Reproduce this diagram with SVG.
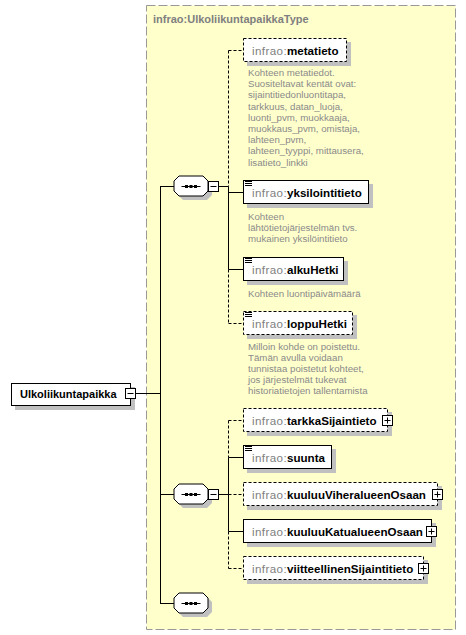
<svg xmlns="http://www.w3.org/2000/svg" width="466" height="635" viewBox="0 0 466 635">
<defs>
<style>
.bg{fill:#ffffff}
.type{fill:#ffffcc;stroke:#999999;stroke-width:1;stroke-dasharray:9,3}
.title{font-family:"Liberation Sans",Arial,sans-serif;font-size:11px;font-weight:bold;fill:#808080}
.box{fill:#ffffff;stroke:#000000;stroke-width:1}
.opt{stroke-dasharray:3,2}
.shadow{fill:#c0c0c0;stroke:none}
.lbl{font-family:"Liberation Sans",Arial,sans-serif;font-size:11.6px}
.pre{fill:#808080;font-weight:normal;letter-spacing:0.4px}
.nm{fill:#000000;font-weight:bold}
.main{font-family:"Liberation Sans",Arial,sans-serif;font-size:11px;font-weight:bold;fill:#000000}
.ann{font-family:"Liberation Sans",Arial,sans-serif;font-size:9.7px;fill:#8a8a8a}
.ln{stroke:#000000;stroke-width:1;fill:none}
.dl{stroke:#000000;stroke-width:1;fill:none;stroke-dasharray:3,2}
.doc{stroke:#000000;stroke-width:1}
.btn{fill:#ffffff;stroke:#000000;stroke-width:1}
</style>
<path id="oct" d="M5,0 H29 L34,5 V15 L29,20 H5 L0,15 V5 Z"/>
<g id="seqicon">
<use href="#oct" x="4" y="4" class="shadow"/>
<use href="#oct" class="box"/>
<line x1="7.5" y1="10.5" x2="26.5" y2="10.5" class="ln"/>
<rect x="11" y="9" width="3" height="3" fill="#000"/>
<rect x="15.5" y="9" width="3" height="3" fill="#000"/>
<rect x="20" y="9" width="3" height="3" fill="#000"/>
</g>
<g id="docicon">
<line x1="2" y1="1.5" x2="9" y2="1.5" class="doc"/>
<line x1="2" y1="3.5" x2="9" y2="3.5" class="doc"/>
<line x1="2" y1="5.5" x2="9" y2="5.5" class="doc"/>
</g>
<g id="plus">
<rect x="0.5" y="0.5" width="10" height="10" class="btn"/>
<line x1="2.5" y1="5.5" x2="8.5" y2="5.5" class="ln"/>
<line x1="5.5" y1="2.5" x2="5.5" y2="8.5" class="ln"/>
</g>
<g id="minus">
<rect x="0.5" y="0.5" width="10" height="10" class="btn"/>
<line x1="2.5" y1="5.5" x2="8.5" y2="5.5" class="ln"/>
</g>
</defs>
<rect x="0" y="0" width="466" height="635" class="bg"/>

<g id="type">
<rect x="146.5" y="5.5" width="309" height="624" class="type"/>
<text x="153" y="23" class="title">infrao:UlkoliikuntapaikkaType</text>
</g>

<g id="connectors">
<line x1="136" y1="393.5" x2="160.5" y2="393.5" class="ln"/>
<line x1="160.5" y1="186.5" x2="160.5" y2="603.5" class="ln"/>
<line x1="160" y1="186.5" x2="174" y2="186.5" class="ln"/>
<line x1="160" y1="494.5" x2="174" y2="494.5" class="ln"/>
<line x1="160" y1="603.5" x2="174" y2="603.5" class="ln"/>
<line x1="219" y1="186.5" x2="228.5" y2="186.5" class="ln"/>
<line x1="228.5" y1="50.5" x2="228.5" y2="186.5" class="dl"/>
<line x1="228.5" y1="186.5" x2="228.5" y2="269.5" class="ln"/>
<line x1="228.5" y1="269.5" x2="228.5" y2="323.5" class="dl"/>
<line x1="228.5" y1="50.5" x2="243" y2="50.5" class="dl"/>
<line x1="228.5" y1="192.5" x2="243" y2="192.5" class="ln"/>
<line x1="228.5" y1="269.5" x2="243" y2="269.5" class="ln"/>
<line x1="228.5" y1="323.5" x2="243" y2="323.5" class="dl"/>
<line x1="219" y1="494.5" x2="228.5" y2="494.5" class="ln"/>
<line x1="228.5" y1="420.5" x2="228.5" y2="457.5" class="dl"/>
<line x1="228.5" y1="457.5" x2="228.5" y2="531.5" class="ln"/>
<line x1="228.5" y1="531.5" x2="228.5" y2="568.5" class="dl"/>
<line x1="228.5" y1="420.5" x2="243" y2="420.5" class="dl"/>
<line x1="228.5" y1="457.5" x2="243" y2="457.5" class="ln"/>
<line x1="228.5" y1="494.5" x2="243" y2="494.5" class="dl"/>
<line x1="228.5" y1="531.5" x2="243" y2="531.5" class="ln"/>
<line x1="228.5" y1="568.5" x2="243" y2="568.5" class="dl"/>
</g>

<g id="Ulkoliikuntapaikka">
<rect x="15" y="387" width="120" height="23" class="shadow"/>
<rect x="11.5" y="383.5" width="119" height="22" class="box"/>
<text x="20" y="398" class="main">Ulkoliikuntapaikka</text>
<use href="#minus" x="125" y="388"/>
</g>

<g id="seq1">
<use href="#seqicon" x="174" y="176"/>
<use href="#minus" x="208" y="181"/>
</g>
<g id="seq2">
<use href="#seqicon" x="174" y="484"/>
<use href="#minus" x="208" y="489"/>
</g>
<g id="seq3">
<use href="#seqicon" x="174" y="593"/>
</g>

<g id="metatieto">
<rect x="247" y="42" width="104" height="24" class="shadow"/>
<rect x="243.5" y="38.5" width="103" height="23" class="box opt"/>
<text y="54.5" class="lbl"><tspan x="252" class="pre">infrao:</tspan><tspan x="287" class="nm">metatieto</tspan></text>
<text class="ann"><tspan x="248" y="76">Kohteen metatiedot.</tspan><tspan x="248" y="87.2">Suositeltavat kentät ovat:</tspan><tspan x="248" y="98.4">sijaintitiedonluontitapa,</tspan><tspan x="248" y="109.6">tarkkuus, datan_luoja,</tspan><tspan x="248" y="120.8">luonti_pvm, muokkaaja,</tspan><tspan x="248" y="132">muokkaus_pvm, omistaja,</tspan><tspan x="248" y="143.2">lahteen_pvm,</tspan><tspan x="248" y="154.4">lahteen_tyyppi, mittausera,</tspan><tspan x="248" y="165.6">lisatieto_linkki</tspan></text>
</g>

<g id="yksilointitieto">
<rect x="247" y="184" width="126" height="24" class="shadow"/>
<rect x="243.5" y="180.5" width="125" height="23" class="box"/>
<use href="#docicon" x="243" y="180"/>
<text y="196.5" class="lbl"><tspan x="252" class="pre">infrao:</tspan><tspan x="287" class="nm">yksilointitieto</tspan></text>
<text class="ann"><tspan x="248" y="219.5">Kohteen</tspan><tspan x="248" y="230.7">lähtötietojärjestelmän  tvs.</tspan><tspan x="248" y="241.9">mukainen yksilöintitieto</tspan></text>
</g>

<g id="alkuHetki">
<rect x="247" y="261" width="101" height="24" class="shadow"/>
<rect x="243.5" y="257.5" width="100" height="23" class="box"/>
<use href="#docicon" x="243" y="257"/>
<text y="273.5" class="lbl"><tspan x="252" class="pre">infrao:</tspan><tspan x="287" class="nm">alkuHetki</tspan></text>
<text x="248" y="296.5" class="ann">Kohteen luontipäivämäärä</text>
</g>

<g id="loppuHetki">
<rect x="247" y="315" width="110" height="24" class="shadow"/>
<rect x="243.5" y="311.5" width="109" height="23" class="box opt"/>
<use href="#docicon" x="243" y="311"/>
<text y="327.5" class="lbl"><tspan x="252" class="pre">infrao:</tspan><tspan x="287" class="nm">loppuHetki</tspan></text>
<text class="ann"><tspan x="248" y="349.5">Milloin kohde on poistettu.</tspan><tspan x="248" y="360.7">Tämän avulla voidaan</tspan><tspan x="248" y="371.9">tunnistaa poistetut kohteet,</tspan><tspan x="248" y="383.1">jos järjestelmät tukevat</tspan><tspan x="248" y="394.3">historiatietojen tallentamista</tspan></text>
</g>

<g id="tarkkaSijaintieto">
<rect x="247" y="412" width="145" height="24" class="shadow"/>
<rect x="243.5" y="408.5" width="144" height="23" class="box opt"/>
<text y="424.5" class="lbl"><tspan x="252" class="pre">infrao:</tspan><tspan x="287" class="nm">tarkkaSijaintieto</tspan></text>
<use href="#plus" x="382" y="415"/>
</g>

<g id="suunta">
<rect x="247" y="449" width="89" height="24" class="shadow"/>
<rect x="243.5" y="445.5" width="88" height="23" class="box"/>
<use href="#docicon" x="243" y="445"/>
<text y="461.5" class="lbl"><tspan x="252" class="pre">infrao:</tspan><tspan x="287" class="nm">suunta</tspan></text>
</g>

<g id="kuuluuViheralueenOsaan">
<rect x="247" y="486" width="195" height="24" class="shadow"/>
<rect x="243.5" y="482.5" width="194" height="23" class="box opt"/>
<text y="498.5" class="lbl"><tspan x="252" class="pre">infrao:</tspan><tspan x="287" class="nm">kuuluuViheralueenOsaan</tspan></text>
<use href="#plus" x="432" y="489"/>
</g>

<g id="kuuluuKatualueenOsaan">
<rect x="247" y="523" width="189" height="24" class="shadow"/>
<rect x="243.5" y="519.5" width="188" height="23" class="box"/>
<text y="535.5" class="lbl"><tspan x="252" class="pre">infrao:</tspan><tspan x="287" class="nm">kuuluuKatualueenOsaan</tspan></text>
<use href="#plus" x="426" y="526"/>
</g>

<g id="viitteellinenSijaintitieto">
<rect x="247" y="560" width="181" height="24" class="shadow"/>
<rect x="243.5" y="556.5" width="180" height="23" class="box opt"/>
<text y="572.5" class="lbl"><tspan x="252" class="pre">infrao:</tspan><tspan x="287" class="nm">viitteellinenSijaintitieto</tspan></text>
<use href="#plus" x="418" y="563"/>
</g>
</svg>
